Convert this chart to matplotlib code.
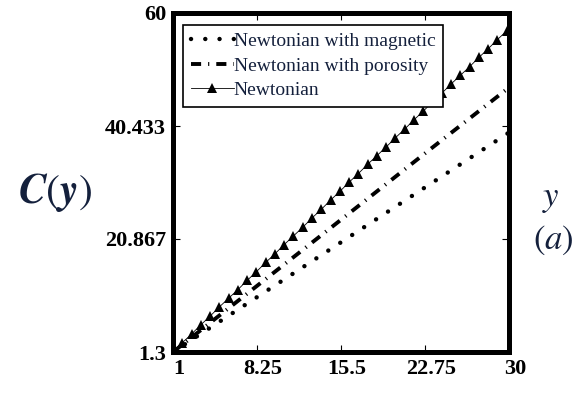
import numpy as np
import matplotlib
matplotlib.use("Agg")
import matplotlib.pyplot as plt
from matplotlib.transforms import ScaledTranslation

# values
x_newt = [1.0, 1.8, 2.6, 3.4, 4.2, 5.0, 5.8, 6.6, 7.4, 8.2, 9.0, 9.8, 10.6,
          11.4, 12.2, 13.0, 13.8, 14.6, 15.4, 16.2, 17.0, 17.8, 18.6, 19.4,
          20.2, 21.0, 21.8, 22.6, 23.4, 24.2, 25.0, 25.8, 26.6, 27.4, 28.2,
          29.0, 29.8]
y_newt = [1.3, 2.9, 4.4, 6.0, 7.5, 9.1, 10.6, 12.1, 13.7, 15.2, 16.8, 18.3,
          19.9, 21.4, 22.9, 24.5, 26.0, 27.6, 29.1, 30.7, 32.2, 33.8, 35.3,
          36.8, 38.4, 39.9, 41.5, 43.0, 44.6, 46.1, 47.7, 49.2, 50.7, 52.3,
          53.8, 55.4, 56.9]
x_line = [1, 8.25, 15.5, 22.75, 30]
y_magnetic = [1.3, 10.8, 20.3, 29.8, 39.3]
y_porosity = [1.3, 12.75, 24.2, 35.7, 47.1]

x_ticks = [1, 8.25, 15.5, 22.75, 30]
y_ticks = [1.3, 20.867, 40.433, 60]
x_ticklabels = ["1", "8.25", "15.5", "22.75", "30"]
y_ticklabels = ["1.3", "20.867", "40.433", "60"]

plt.rcParams['mathtext.fontset'] = 'stix'
serif = 'Liberation Serif'
navy = '#14203c'

fig = plt.figure(figsize=(5.83, 3.97), dpi=100)
ax = fig.add_axes([173/583, 1 - 352/397, 336/583, 339/397])

ax.plot(x_line, y_magnetic, color='black', lw=3.2,
        ls=(0, (0.01, 3.2)), dash_capstyle='round',
        label='Newtonian with magnetic')
ax.plot(x_line, y_porosity, color='black', lw=2.8,
        ls=(0, (2.6, 1.8, 0.3, 1.8)), dash_capstyle='butt',
        label='Newtonian with porosity')
ax.plot(x_newt, y_newt, color='black', lw=0.6, marker='^', ms=7.5,
        markeredgewidth=0, label='Newtonian')

ax.set_xlim(1, 30)
ax.set_ylim(1.3, 60)
ax.set_xticks(x_ticks)
ax.set_xticklabels(x_ticklabels)
ax.set_yticks(y_ticks)
ax.set_yticklabels(y_ticklabels)
ax.tick_params(direction='in', length=5, width=0.8, top=True, right=True,
               labelsize=16, pad=5)
for lab in ax.get_xticklabels() + ax.get_yticklabels():
    lab.set_fontfamily(serif)
    lab.set_fontweight('bold')
for lab in ax.get_xticklabels():
    lab.set_transform(lab.get_transform() + ScaledTranslation(6/100, 0, fig.dpi_scale_trans))

for s in ax.spines.values():
    s.set_linewidth(3.6)
    s.set_color('black')

leg = ax.legend(loc='upper left', bbox_to_anchor=(0.03, 0.965), borderaxespad=0,
                prop={'family': serif, 'size': 14}, handlelength=2.2,
                handletextpad=0.0, labelspacing=0.35, borderpad=0.4,
                fancybox=False, framealpha=1, edgecolor='black')
leg.get_frame().set_linewidth(1.2)
for t in leg.get_texts():
    t.set_color(navy)

fig.text(55/583, 1 - 192/397, r'$\boldsymbol{C}(\boldsymbol{y})$', fontsize=30,
         ha='center', va='center', color=navy)
fig.text(551/583, 1 - 198/397, r'$y$', fontsize=25, ha='center', va='center',
         color=navy)
fig.text(553/583, 1 - 240/397, r'$(a)$', fontsize=25, ha='center', va='center',
         color=navy)

fig.savefig('out.png', dpi=100, facecolor='white')
